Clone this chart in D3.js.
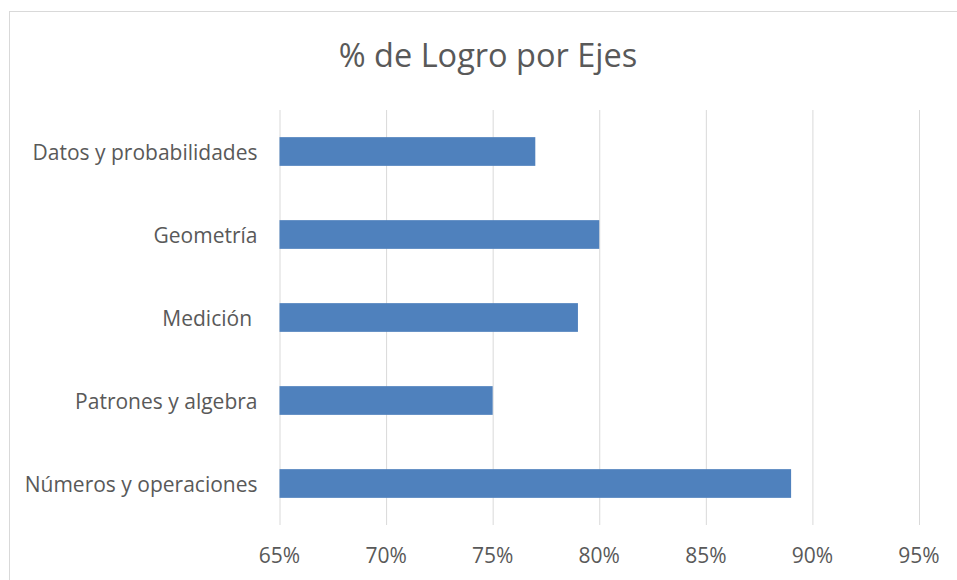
<!DOCTYPE html>
<html lang="es">
<head>
  <meta charset="utf-8">
  <title>% de Logro por Ejes</title>
  <script src="https://cdn.jsdelivr.net/npm/d3@7"></script>
  <style>
    body {
      margin: 0;
      background: #fff;
    }
    text {
      font-family: "Open Sans", sans-serif;
      fill: #595959;
    }
    .grid line {
      stroke: #d9d9d9;
      stroke-width: 1;
    }
    .grid path {
      display: none;
    }
  </style>
</head>
<body>
<script>
  var categories = ["Datos y probabilidades", "Geometría", "Medición ", "Patrones y algebra", "Números y operaciones"];
  var values = [0.77, 0.80, 0.79, 0.75, 0.89];
  var tickValues = [0.65, 0.70, 0.75, 0.80, 0.85, 0.90, 0.95];

  var width = 957, height = 580;
  var margin = {top: 110, right: 38, bottom: 55, left: 279.5};

  var svg = d3.select("body").append("svg")
    .attr("width", width)
    .attr("height", height);

  // chart frame
  svg.append("rect")
    .attr("x", 9.5).attr("y", 11.5)
    .attr("width", 980).attr("height", 600)
    .attr("fill", "none")
    .attr("stroke", "#d9d9d9");

  var x = d3.scaleLinear()
    .domain([0.65, 0.95])
    .range([margin.left, width - margin.right]);

  var y = d3.scaleBand()
    .domain(categories)
    .range([margin.top, height - margin.bottom])
    .paddingInner(0.654)
    .paddingOuter(0.327);

  svg.append("text")
    .attr("x", 488)
    .attr("y", 67)
    .attr("text-anchor", "middle")
    .style("font-size", "32.5px")
    .text("% de Logro por Ejes");

  svg.append("g")
    .attr("class", "grid")
    .attr("transform", "translate(0," + (height - margin.bottom) + ")")
    .call(d3.axisBottom(x)
      .tickValues(tickValues)
      .tickSize(-(height - margin.bottom - margin.top))
      .tickFormat(""));

  svg.selectAll(".bar")
    .data(values)
    .enter().append("rect")
    .attr("class", "bar")
    .attr("x", x(0.65))
    .attr("y", function(d, i) { return y(categories[i]); })
    .attr("width", function(d) { return x(d) - x(0.65); })
    .attr("height", y.bandwidth())
    .attr("fill", "#4f81bd");

  svg.selectAll(".cat")
    .data(categories)
    .enter().append("text")
    .attr("class", "cat")
    .attr("x", margin.left - 22)
    .attr("y", function(d) { return y(d) + y.bandwidth() / 2; })
    .attr("dy", "0.4em")
    .attr("text-anchor", "end")
    .style("font-size", "21px")
    .style("white-space", "pre")
    .text(function(d) { return d; });

  svg.selectAll(".tick-label")
    .data(tickValues)
    .enter().append("text")
    .attr("class", "tick-label")
    .attr("x", function(d) { return x(d); })
    .attr("y", 563)
    .attr("text-anchor", "middle")
    .style("font-size", "21px")
    .text(function(d) { return d3.format(".0%")(d); });
</script>
</body>
</html>
